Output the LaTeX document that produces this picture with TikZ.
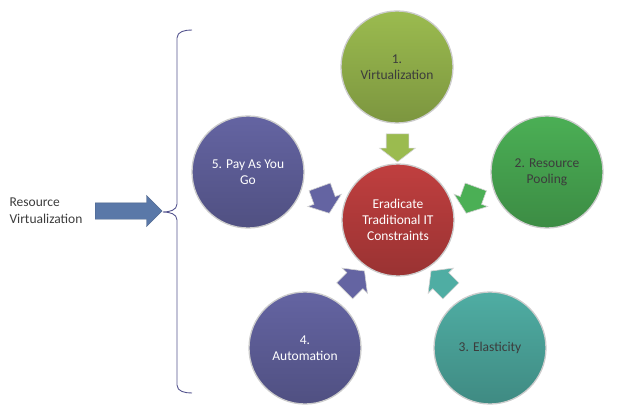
\documentclass[tikz,border=0pt]{standalone}
\usepackage{fontspec}
\setmainfont{Carlito}
\usepackage{xcolor}
\usepackage{tikz}
\usetikzlibrary{shapes.arrows,positioning,calc}
\definecolor{virtgreen}{HTML}{9BBB4F}
\definecolor{poolgreen}{HTML}{4BAF55}
\definecolor{elasteal}{HTML}{4FADA3}
\definecolor{autopurple}{HTML}{6464A2}
\definecolor{corered}{HTML}{C03F3F}
\definecolor{bigblue}{HTML}{5A78A8}
\definecolor{bracecol}{HTML}{55558F}
\definecolor{darktext}{HTML}{3C3C3C}

\begin{document}
\begin{tikzpicture}[x=1pt,y=1pt,
  ball/.style={circle, minimum size=112pt, inner sep=0pt, draw=gray!40, line width=1.3pt,
    align=center, font=\fontsize{13.5}{16}\selectfont,
    top color=#1, middle color=#1, bottom color=#1!80!black},
  smallarrow/.style={single arrow, draw=gray!35, line width=0.6pt, fill=#1,
    inner xsep=0pt, inner ysep=11pt, minimum height=28pt,
    single arrow head extend=6.5pt, single arrow tip angle=105},
  label/.style={align=left, font=\fontsize{13.5}{17}\selectfont, text=darktext}]
\useasboundingbox (0,0) rectangle (620,-417);

%Draw the centre and the five steps
\node[ball=corered, text=white] (core) at (398,-220) {Eradicate\\Traditional IT\\Constraints};
\node[ball=virtgreen, text=darktext] (virt) at (397,-67) {1.\\Virtualization};
\node[ball=poolgreen, text=darktext] (pool) at (547,-172) {2. Resource\\Pooling};
\node[ball=elasteal, text=darktext] (elas) at (490,-348) {3. Elasticity};
\node[ball=autopurple, text=white] (auto) at (305,-348) {4.\\Automation};
\node[ball=autopurple, text=white] (payg) at (248,-172) {5. Pay As You\\Go};

%Draw small arrows into the centre
\node[smallarrow=virtgreen, rotate=-90] (virtarrow) at ($(virt)!0.5!(core)$) {};
\node[smallarrow=poolgreen, rotate=-110] (poolarrow) at ($(pool)!0.5!(core)$) {};
\node[smallarrow=elasteal, rotate=135] (elasarrow) at ($(elas)!0.5!(core)$) {};
\node[smallarrow=autopurple, rotate=45] (autoarrow) at ($(auto)!0.5!(core)$) {};
\node[smallarrow=autopurple, rotate=-70] (paygarrow) at ($(payg)!0.5!(core)$) {};

%Draw left-hand label and big arrow
\node[label] (resvirt) at (46,-211) {Resource\\Virtualization};
\node[single arrow, fill=bigblue, draw=bigblue!80!black, line width=0.4pt,
  inner xsep=0pt, inner ysep=8pt, minimum height=67pt, single arrow head extend=7.5pt,
  right=9pt of resvirt] (bigarrow) {};

%Draw brace
\coordinate (bracetip) at (163,-212);
\draw[bracecol, line width=0.9pt] (192,-30) to[out=180,in=90] (177,-38) -- (177,-204)
  to[out=270,in=0] (bracetip) to[out=0,in=90] (177,-220) -- (177,-385)
  to[out=270,in=180] (192,-393);
\end{tikzpicture}
\end{document}
